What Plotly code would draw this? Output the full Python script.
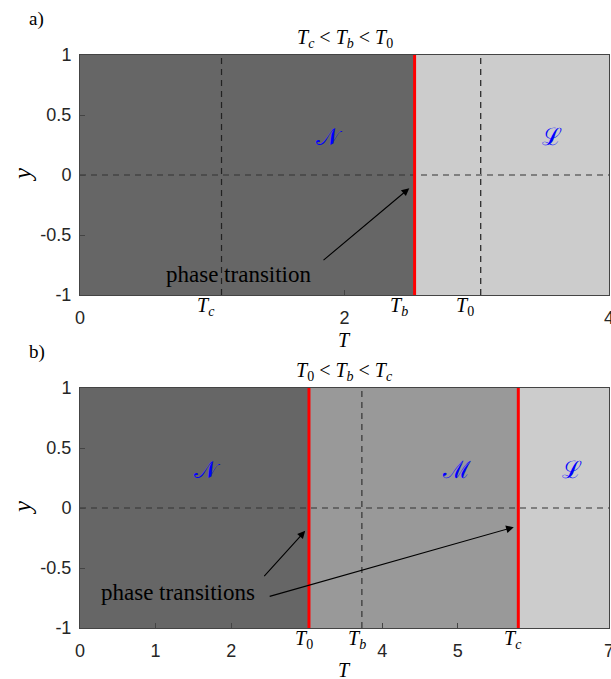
import plotly.graph_objects as go

# ---------------- data ----------------
# panel a)  Tc < Tb < T0
a_Tc, a_Tb, a_T0 = 1.07, 2.53, 3.03
a_xmax = 4
a_xticks = [0, 2, 4]
a_phase_names = ["𝒩", "ℒ"]
a_phase_x = [1.89, 3.57]
a_phase_y = [0.32, 0.32]
a_arrow_head = (2.49, -0.11)
a_arrow_tail = (1.83, -0.72)
a_text_pos = (1.20, -0.83)

# panel b)  T0 < Tb < Tc
b_T0, b_Tb, b_Tc = 3.03, 3.73, 5.80
b_xmax = 7
b_xticks = [0, 1, 2, 4, 5, 7]
b_phase_names = ["𝒩", "ℳ", "ℒ"]
b_phase_x = [1.69, 4.98, 6.51]
b_phase_y = [0.32, 0.32, 0.32]
b_arrow_heads = [(2.98, -0.19), (5.74, -0.16)]
b_arrow_tails = [(2.42, -0.58), (2.49, -0.74)]
b_text_pos = (1.30, -0.70)

yticks = [-1, -0.5, 0, 0.5, 1]
ytick_text = ["-1", "-0.5", "0", "0.5", "1"]

DARK, MID, LIGHT = "#666666", "#999999", "#cccccc"
SERIF = "Liberation Serif"
SANS = "Liberation Sans"
AXC = "#262626"

W, H = 611, 679
ml, mr, mt, mb = 80, 2, 55, 51
pw, ph = W - ml - mr, H - mt - mb

fig = go.Figure()


def region(x0, x1, color, xa, ya):
    fig.add_trace(go.Scatter(x=[x0, x1, x1, x0, x0], y=[-1, -1, 1, 1, -1],
                             fill="toself", fillcolor=color, mode="none",
                             xaxis=xa, yaxis=ya, hoverinfo="skip", showlegend=False))


def vline(x, color, width, dash, xa, ya):
    fig.add_trace(go.Scatter(x=[x, x], y=[-1, 1], mode="lines",
                             line=dict(color=color, width=width, dash=dash),
                             xaxis=xa, yaxis=ya, hoverinfo="skip", showlegend=False))


def hline(xmax, xa, ya):
    fig.add_trace(go.Scatter(x=[0, xmax], y=[0, 0], mode="lines",
                             line=dict(color="#333333", width=1.2, dash="6px,5px"),
                             xaxis=xa, yaxis=ya, hoverinfo="skip", showlegend=False))


# panel a
region(0, a_Tb, DARK, "x", "y")
region(a_Tb, a_xmax, LIGHT, "x", "y")
vline(a_Tc, "#222222", 1.2, "6px,5px", "x", "y")
vline(a_T0, "#222222", 1.2, "6px,5px", "x", "y")
hline(a_xmax, "x", "y")
vline(a_Tb, "red", 3, "solid", "x", "y")

# panel b
region(0, b_T0, DARK, "x2", "y2")
region(b_T0, b_Tc, MID, "x2", "y2")
region(b_Tc, b_xmax, LIGHT, "x2", "y2")
vline(b_Tb, "#333333", 1.2, "6px,5px", "x2", "y2")
hline(b_xmax, "x2", "y2")
vline(b_T0, "red", 3, "solid", "x2", "y2")
vline(b_Tc, "red", 3, "solid", "x2", "y2")

ann = []
# phase labels
for name, x, y in zip(a_phase_names, a_phase_x, a_phase_y):
    ann.append(dict(x=x, y=y, xref="x", yref="y", text=name, showarrow=False,
                    font=dict(family="DejaVu Serif", size=24, color="blue")))
for name, x, y in zip(b_phase_names, b_phase_x, b_phase_y):
    ann.append(dict(x=x, y=y, xref="x2", yref="y2", text=name, showarrow=False,
                    font=dict(family="DejaVu Serif", size=24, color="blue")))

# arrows
ann.append(dict(x=a_arrow_head[0], y=a_arrow_head[1], ax=a_arrow_tail[0], ay=a_arrow_tail[1],
                xref="x", yref="y", axref="x", ayref="y", text="", showarrow=True,
                arrowhead=2, arrowsize=1.4, arrowwidth=1.1, arrowcolor="black"))
ann.append(dict(x=a_text_pos[0], y=a_text_pos[1], xref="x", yref="y", text="phase transition",
                showarrow=False, font=dict(family=SERIF, size=23, color="black")))
for (hx, hy), (tx, ty) in zip(b_arrow_heads, b_arrow_tails):
    ann.append(dict(x=hx, y=hy, ax=tx, ay=ty, xref="x2", yref="y2", axref="x2", ayref="y2",
                    text="", showarrow=True, arrowhead=2, arrowsize=1.4, arrowwidth=1.1,
                    arrowcolor="black"))
ann.append(dict(x=b_text_pos[0], y=b_text_pos[1], xref="x2", yref="y2", text="phase transitions",
                showarrow=False, font=dict(family=SERIF, size=23, color="black")))

# T labels below the axes
for val, lab in [(a_Tc, "c"), (a_Tb, "b"), (a_T0, "0")]:
    sub = lab if lab == "0" else f"<i>{lab}</i>"
    ann.append(dict(x=val, y=-1, xref="x", yref="y", text=f"<i>T</i><sub>{sub}</sub>",
                    showarrow=False, yanchor="top", xshift=-16, yshift=3,
                    font=dict(family=SERIF, size=20, color="black")))
for val, lab in [(b_T0, "0"), (b_Tb, "b"), (b_Tc, "c")]:
    sub = lab if lab == "0" else f"<i>{lab}</i>"
    ann.append(dict(x=val, y=-1, xref="x2", yref="y2", text=f"<i>T</i><sub>{sub}</sub>",
                    showarrow=False, yanchor="top", xshift=-5, yshift=3,
                    font=dict(family=SERIF, size=20, color="black")))

# titles
sp = "&nbsp;"
ann.append(dict(x=0.5, y=1, xref="x domain", yref="y domain", yanchor="middle", yshift=17,
                text=f"<i>T</i><sub><i>c</i></sub>{sp}&lt;{sp}<i>T</i><sub><i>b</i></sub>{sp}&lt;{sp}<i>T</i><sub>0</sub>",
                showarrow=False, font=dict(family=SERIF, size=20, color="black")))
ann.append(dict(x=0.5, y=1, xref="x2 domain", yref="y2 domain", yanchor="middle", yshift=17,
                text=f"<i>T</i><sub>0</sub>{sp}&lt;{sp}<i>T</i><sub><i>b</i></sub>{sp}&lt;{sp}<i>T</i><sub><i>c</i></sub>",
                showarrow=False, font=dict(family=SERIF, size=20, color="black")))
# axis labels
for xa, ya, dy in [("x", "y", -45), ("x2", "y2", -42)]:
    ann.append(dict(x=0.5, y=0, xref=f"{xa} domain", yref=f"{ya} domain", yanchor="middle",
                    yshift=dy, text="<i>T</i>", showarrow=False,
                    font=dict(family=SERIF, size=20, color="black")))
    ann.append(dict(x=0, y=0.5, xref=f"{xa} domain", yref=f"{ya} domain", xanchor="center",
                    yanchor="middle", xshift=-58, text="<i>y</i>", textangle=-90,
                    showarrow=False, font=dict(family=SERIF, size=25, color="black")))


def px_to_paper(px, py):
    return (px - ml) / pw, (H - mb - py) / ph


for txt, (px, py) in [("a)", (27, 19)), ("b)", (27, 352))]:
    X, Y = px_to_paper(px, py)
    ann.append(dict(x=X, y=Y, xref="paper", yref="paper", text=txt, showarrow=False,
                    xanchor="left", yanchor="middle",
                    font=dict(family=SERIF, size=19, color="black")))

axis_common = dict(showline=True, mirror=True, linecolor="#444444", linewidth=1,
                   ticks="inside", ticklen=5, tickcolor="#444444", showgrid=False,
                   zeroline=False, automargin=False,
                   tickfont=dict(family=SANS, size=18, color=AXC))

fig.update_layout(
    annotations=ann,
    width=W, height=H,
    margin=dict(l=ml, r=mr, t=mt, b=mb),
    plot_bgcolor="white", paper_bgcolor="white",
    showlegend=False,
    xaxis=dict(domain=[0, 1], range=[0, a_xmax], tickvals=a_xticks, anchor="y",
               ticklabelstandoff=6, ticklabeloverflow="allow", **axis_common),
    yaxis=dict(domain=[(H - mb - 295) / ph, 1], range=[-1, 1], tickvals=yticks,
               ticktext=ytick_text, anchor="x", ticklabelstandoff=4, **axis_common),
    xaxis2=dict(domain=[0, 1], range=[0, b_xmax], tickvals=b_xticks, anchor="y2",
                ticklabelstandoff=6, ticklabeloverflow="allow", **axis_common),
    yaxis2=dict(domain=[0, (H - mb - 388) / ph], range=[-1, 1], tickvals=yticks,
                ticktext=ytick_text, anchor="x2", ticklabelstandoff=4, **axis_common),
)

fig.write_html("out.html")
